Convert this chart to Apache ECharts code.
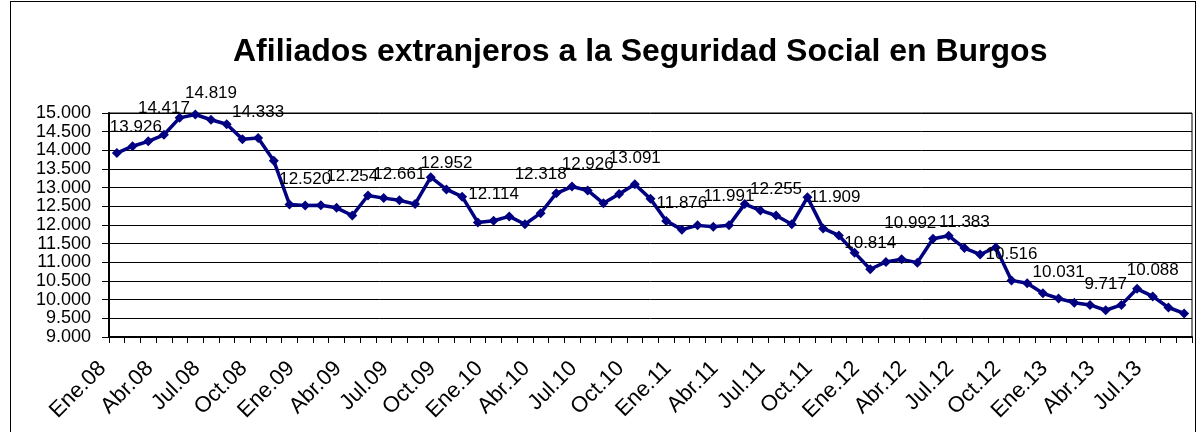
<!DOCTYPE html>
<html>
<head>
<meta charset="utf-8">
<title>Afiliados extranjeros a la Seguridad Social en Burgos</title>
<script src="https://cdn.jsdelivr.net/npm/echarts@6/dist/echarts.min.js"></script>
<style>
    html, body { margin: 0; padding: 0; background: #fff; }
    #frame { position: absolute; left: 10px; top: 1px; width: 1184px; height: 440px; border: 1px solid #000; }
    #chart-afiliados { position: absolute; left: 0; top: 0; width: 1197px; height: 432px; }
</style>
</head>
<body>
<div id="frame"></div>
<div id="chart-afiliados"></div>
<script>
// meses, Ene.08 .. Sep.13
var months = ["Ene", "Feb", "Mar", "Abr", "May", "Jun", "Jul", "Ago", "Sep", "Oct", "Nov", "Dic"];
var years = ["08", "09", "10", "11", "12", "13"];
var categories = [];
for (var y = 0; y < years.length; y++) {
    for (var m = 0; m < months.length; m++) {
        if (y == years.length - 1 && m > 8) break;
        categories.push(months[m] + "." + years[y]);
    }
}

// afiliados por mes
var values2008 = [13926, 14110, 14240, 14417, 14870, 14960, 14819, 14700, 14300, 14333, 13720, 12550];
var values2009 = [12520, 12530, 12460, 12254, 12790, 12720, 12661, 12560, 13280, 12952, 12760, 12070];
var values2010 = [12114, 12230, 12020, 12318, 12850, 13030, 12926, 12580, 12830, 13091, 12700, 12110];
var values2011 = [11876, 11990, 11950, 11991, 12560, 12390, 12255, 12020, 12740, 11909, 11720, 11260];
var values2012 = [10814, 11010, 11080, 10992, 11630, 11710, 11383, 11210, 11400, 10516, 10440, 10170];
var values2013 = [10031, 9920, 9860, 9717, 9860, 10290, 10088, 9790, 9630];
var values = [].concat(values2008, values2009, values2010, values2011, values2012, values2013);

// eje Y
var yMin = 9000, yMax = 15000, yStep = 500;

// etiquetas movidas a mano en el original
var labelShift = {
    0: [19, 0],
    15: [0, -13],
    27: [0, -13],
    39: [0, -3],
    45: [12, -5],
    51: [-7, -13]
};

var fontFamily = '"Liberation Sans", Arial, Helvetica, sans-serif';

function miles(v) {
    var s = String(Math.round(v));
    return s.replace(/\B(?=(\d{3})+(?!\d))/g, ".");
}

var seriesData = [];
for (var i = 0; i < values.length; i++) {
    if (i % 3 == 0) {
        var shift = labelShift[i] || [0, 0];
        seriesData.push({
            value: values[i],
            label: { show: true, offset: [shift[0], -26 + shift[1]] }
        });
    } else {
        seriesData.push(values[i]);
    }
}

var chart = echarts.init(document.getElementById('chart-afiliados'));
var option = {
    animation: false,
    backgroundColor: 'transparent',
    title: {
        text: 'Afiliados extranjeros a la Seguridad Social en Burgos',
        left: 228,
        top: 31,
        textStyle: {
            fontFamily: fontFamily,
            fontSize: 32,
            fontWeight: 'bold',
            color: '#000'
        }
    },
    grid: {
        left: 109,
        right: 5,
        top: 113,
        bottom: 95,
        show: true,
        borderColor: '#000',
        borderWidth: 1
    },
    xAxis: {
        type: 'category',
        boundaryGap: true,
        data: categories,
        axisLine: { lineStyle: { color: '#000', width: 2 } },
        axisTick: { show: true, interval: 0, length: 6, lineStyle: { color: '#000' } },
        axisLabel: {
            interval: 2,
            rotate: 45,
            margin: 14,
            padding: [0, 20, 0, 0],
            color: '#000',
            fontFamily: fontFamily,
            fontSize: 22
        },
        splitLine: { show: false }
    },
    yAxis: {
        type: 'value',
        min: yMin,
        max: yMax,
        interval: yStep,
        axisLine: { show: true, lineStyle: { color: '#000', width: 2 } },
        axisTick: { show: true, length: 7, lineStyle: { color: '#000' } },
        axisLabel: {
            margin: 18,
            showMinLabel: true,
            showMaxLabel: true,
            hideOverlap: false,
            color: '#000',
            fontFamily: fontFamily,
            fontSize: 18,
            formatter: function (v) { return miles(v); }
        },
        splitLine: { show: true, lineStyle: { color: '#000', width: 1 } }
    },
    series: [{
        name: 'Afiliados',
        type: 'line',
        data: seriesData,
        symbol: 'diamond',
        symbolSize: 10,
        showAllSymbol: true,
        lineStyle: { color: '#000080', width: 3.5 },
        itemStyle: { color: '#000080' },
        label: {
            show: false,
            position: 'inside',
            color: '#000',
            fontFamily: fontFamily,
            fontSize: 17,
            formatter: function (p) { return miles(p.value); }
        },
        z: 3
    }]
};
chart.setOption(option);
</script>
</body>
</html>
